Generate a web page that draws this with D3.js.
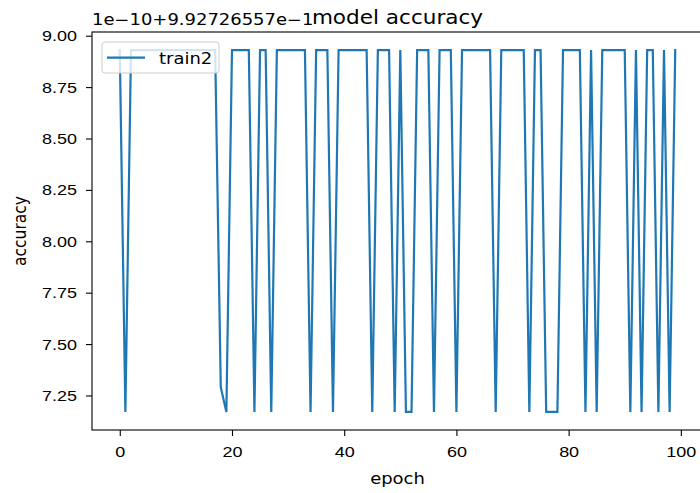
<!DOCTYPE html>
<html>
<head>
<meta charset="utf-8">
<title>model accuracy</title>
<script src="https://cdn.jsdelivr.net/npm/d3@7"></script>
<style>
	body { margin: 0; background: #fff; }
	svg { display: block; font-family: "DejaVu Sans", sans-serif; }
	.axis text { font-size: 15.5px; fill: #000; }
	.axis path, .axis line { stroke: #000; stroke-width: 1.1; }
</style>
</head>
<body>
<svg id="chart"></svg>
<script>
// values shown as offset from 9.92726557e-1, in units of 1e-10
var H = 8.93, L = 7.17;
var epochs = d3.range(0, 100);
var accuracy = [
	H, L, H, H, H, H, H, H, H, H,
	H, H, H, H, H, H, H, H, 7.29, L,
	H, H, H, H, L, H, H, L, H, H,
	H, H, H, H, L, H, H, H, L, H,
	H, H, H, H, H, L, H, H, H, L,
	H, L, L, H, H, H, L, H, H, H,
	L, H, H, H, H, H, H, L, H, H,
	H, H, H, L, H, H, L, L, L, H,
	H, H, H, L, H, L, H, H, H, H,
	H, L, H, L, H, H, L, H, L, H
];
var xTicks = [0, 20, 40, 60, 80, 100];
var yTicks = [7.25, 7.50, 7.75, 8.00, 8.25, 8.50, 8.75, 9.00];

var w = 700, h = 493;
// axes box (right edge falls just outside the picture)
var axL = 92, axT = 32, axR = 703, axB = 430;
// the reference picture is stretched sideways, so is its text
var SX = 1.16;

var svg = d3.select("#chart").attr("width", w).attr("height", h);

// matplotlib style 5% margins
var xPad = (d3.max(epochs) - d3.min(epochs)) * 0.05;
var yPad = (d3.max(accuracy) - d3.min(accuracy)) * 0.05;
var x = d3.scaleLinear()
	.domain([d3.min(epochs) - xPad, d3.max(epochs) + xPad])
	.range([axL, axR]);
var y = d3.scaleLinear()
	.domain([d3.min(accuracy) - yPad, d3.max(accuracy) + yPad])
	.range([axB, axT]);

function addText(tx, ty, str, size, anchor) {
	return svg.append("text")
		.attr("transform", "translate(" + tx + "," + ty + ") scale(" + SX + ",1)")
		.attr("text-anchor", anchor || "start")
		.attr("font-size", size)
		.text(str);
}

// frame
svg.append("rect")
	.attr("x", axL).attr("y", axT)
	.attr("width", axR - axL).attr("height", axB - axT)
	.attr("fill", "none").attr("stroke", "#000").attr("stroke-width", 1.1);

// the series
var line = d3.line()
	.x(function(d, i) { return x(epochs[i]); })
	.y(function(d) { return y(d); });
svg.append("path")
	.datum(accuracy)
	.attr("d", line)
	.attr("fill", "none")
	.attr("stroke", "#1f77b4")
	.attr("stroke-width", 2.2)
	.attr("stroke-linejoin", "miter")
	.attr("stroke-linecap", "square");

// axes
var gx = svg.append("g").attr("class", "axis")
	.attr("transform", "translate(0," + axB + ")")
	.call(d3.axisBottom(x).tickValues(xTicks).tickSize(6).tickPadding(10).tickFormat(d3.format("d")));
gx.select(".domain").remove();
gx.selectAll("text").attr("transform", "scale(" + SX + ",1)");

var gy = svg.append("g").attr("class", "axis")
	.attr("transform", "translate(" + axL + ",0)")
	.call(d3.axisLeft(y).tickValues(yTicks).tickSize(6).tickPadding(9).tickFormat(d3.format(".2f")));
gy.select(".domain").remove();
gy.selectAll("text")
	.attr("x", 0)
	.attr("transform", "translate(-15,0) scale(" + SX + ",1)");

// offset text, title, labels
addText(axL, 25, "1e\u221210+9.92726557e\u22121", 15.5);
addText((axL + axR) / 2, 24, "model accuracy", 18.6, "middle");
addText((axL + axR) / 2, 484, "epoch", 15.5, "middle");

svg.append("text")
	.attr("transform", "translate(26," + (axT + axB) / 2 + ") scale(" + SX + ",1) rotate(-90)")
	.attr("text-anchor", "middle")
	.attr("font-size", 15.5)
	.text("accuracy");

// legend
var lg = svg.append("g").attr("transform", "translate(102,42)");
lg.append("rect")
	.attr("width", 117).attr("height", 31).attr("rx", 3)
	.attr("fill", "#fff").attr("fill-opacity", 0.8)
	.attr("stroke", "#ccc").attr("stroke-width", 1);
lg.append("line")
	.attr("x1", 5).attr("x2", 43).attr("y1", 15.7).attr("y2", 15.7)
	.attr("stroke", "#1f77b4").attr("stroke-width", 2.2);
lg.append("text")
	.attr("transform", "translate(57,21.5) scale(" + SX + ",1)")
	.attr("font-size", 15.5)
	.text("train2");
</script>
</body>
</html>
